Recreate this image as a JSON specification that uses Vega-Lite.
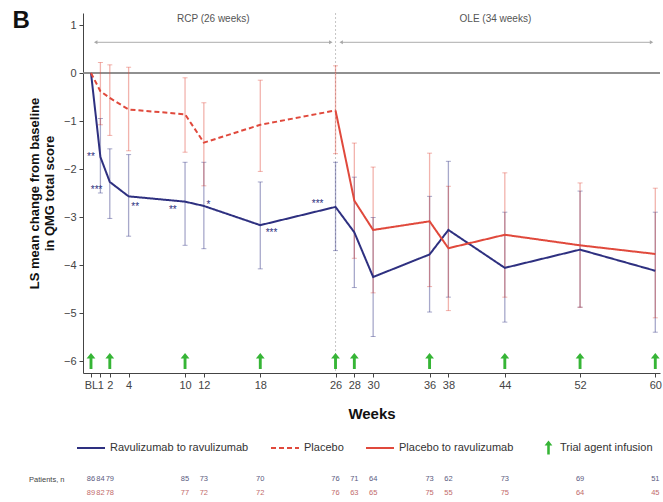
{
  "$schema": "https://vega.github.io/schema/vega-lite/v6.json",
  "padding": {"left": 12, "top": 8, "right": 3, "bottom": 0},
  "config": {
    "font": "Liberation Sans",
    "view": {"stroke": null},
    "axis": {
      "labelFontSize": 11,
      "labelColor": "#444",
      "domainColor": "#444",
      "tickColor": "#444",
      "tickSize": 4,
      "grid": false,
      "titleFontSize": 13,
      "titleFontWeight": "bold",
      "titleColor": "#111"
    },
    "legend": {
      "title": null,
      "orient": "none",
      "direction": "horizontal",
      "labelFontSize": 11,
      "labelColor": "#333"
    }
  },
  "title": {
    "text": "B",
    "anchor": "start",
    "frame": "bounds",
    "fontSize": 24,
    "fontWeight": "bold",
    "color": "#111",
    "dx": -16,
    "dy": 24
  },
  "datasets": {
    "series": [
      {"series": "Ravulizumab to ravulizumab", "week": 0, "ls": 0, "lo": null, "hi": null},
      {"series": "Ravulizumab to ravulizumab", "week": 1, "ls": -1.75, "lo": -2.5, "hi": -0.95},
      {"series": "Ravulizumab to ravulizumab", "week": 2, "ls": -2.27, "lo": -3.03, "hi": -1.58},
      {"series": "Ravulizumab to ravulizumab", "week": 4, "ls": -2.57, "lo": -3.4, "hi": -1.7},
      {"series": "Ravulizumab to ravulizumab", "week": 10, "ls": -2.68, "lo": -3.59, "hi": -1.86},
      {"series": "Ravulizumab to ravulizumab", "week": 12, "ls": -2.77, "lo": -3.66, "hi": -1.86},
      {"series": "Ravulizumab to ravulizumab", "week": 18, "ls": -3.17, "lo": -4.08, "hi": -2.27},
      {"series": "Ravulizumab to ravulizumab", "week": 26, "ls": -2.79, "lo": -3.7, "hi": -1.86},
      {"series": "Ravulizumab to ravulizumab", "week": 28, "ls": -3.32, "lo": -4.47, "hi": -2.17},
      {"series": "Ravulizumab to ravulizumab", "week": 30, "ls": -4.25, "lo": -5.49, "hi": -3.01},
      {"series": "Ravulizumab to ravulizumab", "week": 36, "ls": -3.78, "lo": -4.98, "hi": -2.57},
      {"series": "Ravulizumab to ravulizumab", "week": 38, "ls": -3.27, "lo": -4.67, "hi": -1.84},
      {"series": "Ravulizumab to ravulizumab", "week": 44, "ls": -4.06, "lo": -5.19, "hi": -2.9},
      {"series": "Ravulizumab to ravulizumab", "week": 52, "ls": -3.68, "lo": -4.88, "hi": -2.46},
      {"series": "Ravulizumab to ravulizumab", "week": 60, "ls": -4.12, "lo": -5.4, "hi": -2.9},
      {"series": "Placebo", "week": 0, "ls": 0, "lo": null, "hi": null},
      {"series": "Placebo", "week": 1, "ls": -0.38, "lo": -1.08, "hi": 0.22},
      {"series": "Placebo", "week": 2, "ls": -0.52, "lo": -1.3, "hi": 0.17},
      {"series": "Placebo", "week": 4, "ls": -0.76, "lo": -1.62, "hi": 0.12},
      {"series": "Placebo", "week": 10, "ls": -0.86, "lo": -1.65, "hi": -0.1},
      {"series": "Placebo", "week": 12, "ls": -1.45, "lo": -2.35, "hi": -0.62},
      {"series": "Placebo", "week": 18, "ls": -1.08, "lo": -2.05, "hi": -0.15},
      {"series": "Placebo", "week": 26, "ls": -0.78, "lo": -1.68, "hi": 0.15},
      {"series": "Placebo to ravulizumab", "week": 26, "ls": -0.78, "lo": null, "hi": null},
      {"series": "Placebo to ravulizumab", "week": 28, "ls": -2.66, "lo": -3.86, "hi": -1.46},
      {"series": "Placebo to ravulizumab", "week": 30, "ls": -3.27, "lo": -4.58, "hi": -1.96},
      {"series": "Placebo to ravulizumab", "week": 36, "ls": -3.09, "lo": -4.45, "hi": -1.67},
      {"series": "Placebo to ravulizumab", "week": 38, "ls": -3.65, "lo": -4.95, "hi": -2.36},
      {"series": "Placebo to ravulizumab", "week": 44, "ls": -3.37, "lo": -4.67, "hi": -2.08},
      {"series": "Placebo to ravulizumab", "week": 52, "ls": -3.59, "lo": -4.88, "hi": -2.29},
      {"series": "Placebo to ravulizumab", "week": 60, "ls": -3.77, "lo": -5.1, "hi": -2.4}
    ],
    "infusions": [
      {"series": "Trial agent infusion", "week": 0},
      {"series": "Trial agent infusion", "week": 2},
      {"series": "Trial agent infusion", "week": 10},
      {"series": "Trial agent infusion", "week": 18},
      {"series": "Trial agent infusion", "week": 26},
      {"series": "Trial agent infusion", "week": 28},
      {"series": "Trial agent infusion", "week": 36},
      {"series": "Trial agent infusion", "week": 44},
      {"series": "Trial agent infusion", "week": 52},
      {"series": "Trial agent infusion", "week": 60}
    ],
    "stars": [
      {"week": 0, "at": -1.68, "label": "**"},
      {"week": 0.6, "at": -2.38, "label": "***"},
      {"week": 4.7, "at": -2.72, "label": "**"},
      {"week": 8.7, "at": -2.8, "label": "**"},
      {"week": 12.5, "at": -2.69, "label": "*"},
      {"week": 19.2, "at": -3.28, "label": "***"},
      {"week": 24.1, "at": -2.66, "label": "***"}
    ],
    "phases": [
      {"label": "RCP (26 weeks)", "start": 0.5, "end": 25.5, "mid": 13},
      {"label": "OLE (34 weeks)", "start": 26.6, "end": 59.6, "mid": 43}
    ],
    "patients": [
      {"arm": "Ravulizumab to ravulizumab", "week": 0, "n": "86"},
      {"arm": "Ravulizumab to ravulizumab", "week": 1, "n": "84"},
      {"arm": "Ravulizumab to ravulizumab", "week": 2, "n": "79"},
      {"arm": "Ravulizumab to ravulizumab", "week": 10, "n": "85"},
      {"arm": "Ravulizumab to ravulizumab", "week": 12, "n": "73"},
      {"arm": "Ravulizumab to ravulizumab", "week": 18, "n": "70"},
      {"arm": "Ravulizumab to ravulizumab", "week": 26, "n": "76"},
      {"arm": "Ravulizumab to ravulizumab", "week": 28, "n": "71"},
      {"arm": "Ravulizumab to ravulizumab", "week": 30, "n": "64"},
      {"arm": "Ravulizumab to ravulizumab", "week": 36, "n": "73"},
      {"arm": "Ravulizumab to ravulizumab", "week": 38, "n": "62"},
      {"arm": "Ravulizumab to ravulizumab", "week": 44, "n": "73"},
      {"arm": "Ravulizumab to ravulizumab", "week": 52, "n": "69"},
      {"arm": "Ravulizumab to ravulizumab", "week": 60, "n": "51"},
      {"arm": "Placebo", "week": 0, "n": "89"},
      {"arm": "Placebo", "week": 1, "n": "82"},
      {"arm": "Placebo", "week": 2, "n": "78"},
      {"arm": "Placebo", "week": 10, "n": "77"},
      {"arm": "Placebo", "week": 12, "n": "72"},
      {"arm": "Placebo", "week": 18, "n": "72"},
      {"arm": "Placebo", "week": 26, "n": "76"},
      {"arm": "Placebo", "week": 28, "n": "63"},
      {"arm": "Placebo", "week": 30, "n": "65"},
      {"arm": "Placebo", "week": 36, "n": "75"},
      {"arm": "Placebo", "week": 38, "n": "55"},
      {"arm": "Placebo", "week": 44, "n": "75"},
      {"arm": "Placebo", "week": 52, "n": "64"},
      {"arm": "Placebo", "week": 60, "n": "45"}
    ]
  },
  "spacing": 17,
  "resolve": {
    "scale": {"color": "independent", "strokeDash": "independent", "shape": "independent"},
    "legend": {"color": "independent", "strokeDash": "independent", "shape": "independent"}
  },
  "vconcat": [
    {
      "width": 577,
      "height": 360,
      "layer": [
        {
          "data": {"name": "phases"},
          "mark": {"type": "rule", "color": "#888", "strokeWidth": 1.5},
          "encoding": {
            "y": {"datum": 0, "type": "quantitative", "scale": {"domain": [-6.25, 1.25], "nice": false, "zero": false}, "title": ["LS mean change from baseline", "in QMG total score"]}
          }
        },
        {
          "data": {"name": "phases"},
          "mark": {"type": "rule", "color": "#c8c8c8", "strokeWidth": 1, "strokeDash": [2, 2]},
          "encoding": {
            "x": {"datum": 26, "type": "quantitative", "scale": {"domain": [-0.85, 60.5], "nice": false, "zero": false}, "title": "Weeks"}
          }
        },
        {
          "data": {"name": "phases"},
          "mark": {"type": "rule", "color": "#bdbdbd", "strokeWidth": 1.2},
          "encoding": {
            "x": {"field": "start", "type": "quantitative", "scale": {"domain": [-0.85, 60.5], "nice": false, "zero": false}, "title": "Weeks"},
            "x2": {"field": "end"},
            "y": {"datum": 0.64, "type": "quantitative", "scale": {"domain": [-6.25, 1.25], "nice": false, "zero": false}, "title": ["LS mean change from baseline", "in QMG total score"]}
          }
        },
        {
          "data": {"name": "phases"},
          "mark": {"type": "point", "shape": "triangle-left", "filled": true, "size": 16, "color": "#a8a8a8", "opacity": 1},
          "encoding": {
            "x": {"field": "start", "type": "quantitative", "scale": {"domain": [-0.85, 60.5], "nice": false, "zero": false}, "title": "Weeks"},
            "y": {"datum": 0.64, "type": "quantitative", "scale": {"domain": [-6.25, 1.25], "nice": false, "zero": false}, "title": ["LS mean change from baseline", "in QMG total score"]}
          }
        },
        {
          "data": {"name": "phases"},
          "mark": {"type": "point", "shape": "triangle-right", "filled": true, "size": 16, "color": "#a8a8a8", "opacity": 1},
          "encoding": {
            "x": {"field": "end", "type": "quantitative", "scale": {"domain": [-0.85, 60.5], "nice": false, "zero": false}, "title": "Weeks"},
            "y": {"datum": 0.64, "type": "quantitative", "scale": {"domain": [-6.25, 1.25], "nice": false, "zero": false}, "title": ["LS mean change from baseline", "in QMG total score"]}
          }
        },
        {
          "data": {"name": "phases"},
          "mark": {"type": "text", "fontSize": 10, "color": "#555"},
          "encoding": {
            "x": {"field": "mid", "type": "quantitative", "scale": {"domain": [-0.85, 60.5], "nice": false, "zero": false}, "title": "Weeks"},
            "y": {"datum": 1.13, "type": "quantitative", "scale": {"domain": [-6.25, 1.25], "nice": false, "zero": false}, "title": ["LS mean change from baseline", "in QMG total score"]},
            "text": {"field": "label"}
          }
        },
        {
          "data": {"name": "series"},
          "transform": [{"filter": "isValid(datum.lo)"}],
          "mark": {"type": "errorbar", "ticks": {"size": 5, "opacity": 0.42}, "rule": {"strokeWidth": 1.3, "opacity": 0.42}},
          "encoding": {
            "x": {"field": "week", "type": "quantitative", "scale": {"domain": [-0.85, 60.5], "nice": false, "zero": false}, "title": "Weeks"},
            "y": {"field": "lo", "type": "quantitative", "scale": {"domain": [-6.25, 1.25], "nice": false, "zero": false}, "title": ["LS mean change from baseline", "in QMG total score"]},
            "y2": {"field": "hi"},
            "color": {"condition": {"test": "datum.series === 'Ravulizumab to ravulizumab'", "value": "#2e3080"}, "value": "#e0493c"}
          }
        },
        {
          "data": {"name": "series"},
          "mark": {"type": "line", "strokeWidth": 2},
          "encoding": {
            "x": {
              "field": "week",
              "type": "quantitative",
              "scale": {"domain": [-0.85, 60.5], "nice": false, "zero": false},
              "title": "Weeks",
              "axis": {
                "values": [0, 1, 2, 4, 10, 12, 18, 26, 28, 30, 36, 38, 44, 52, 60],
                "labelExpr": "datum.value === 0 ? 'BL' : datum.label",
                "labelOverlap": false,
                "labelFlush": false,
                "titleFontSize": 15,
                "titlePadding": 16
              }
            },
            "y": {
              "field": "ls",
              "type": "quantitative",
              "scale": {"domain": [-6.25, 1.25], "nice": false, "zero": false},
              "title": ["LS mean change from baseline", "in QMG total score"],
              "axis": {"values": [-6, -5, -4, -3, -2, -1, 0, 1], "titlePadding": 7, "labelPadding": 3, "titleLineHeight": 15}
            },
            "color": {
              "field": "series",
              "type": "nominal",
              "scale": {
                "domain": ["Ravulizumab to ravulizumab", "Placebo", "Placebo to ravulizumab"],
                "range": ["#2e3080", "#e0493c", "#e0493c"]
              },
              "legend": {
                "legendX": -7,
                "legendY": 420,
                "columns": 3,
                "symbolType": "stroke",
                "symbolSize": 784,
                "symbolStrokeWidth": 2,
                "symbolOpacity": 1,
                "columnPadding": 18
              }
            },
            "strokeDash": {
              "field": "series",
              "type": "nominal",
              "scale": {
                "domain": ["Ravulizumab to ravulizumab", "Placebo", "Placebo to ravulizumab"],
                "range": [[1, 0], [5, 3], [1, 0]]
              },
              "legend": {
                "legendX": -7,
                "legendY": 420,
                "columns": 3,
                "symbolType": "stroke",
                "symbolSize": 784,
                "symbolStrokeWidth": 2,
                "symbolOpacity": 1,
                "columnPadding": 18
              }
            }
          }
        },
        {
          "data": {"name": "stars"},
          "mark": {"type": "text", "fontSize": 10, "color": "#2e3080", "baseline": "middle", "dy": 3},
          "encoding": {
            "x": {"field": "week", "type": "quantitative", "scale": {"domain": [-0.85, 60.5], "nice": false, "zero": false}, "title": "Weeks"},
            "y": {"field": "at", "type": "quantitative", "scale": {"domain": [-6.25, 1.25], "nice": false, "zero": false}, "title": ["LS mean change from baseline", "in QMG total score"]},
            "text": {"field": "label"}
          }
        },
        {
          "data": {"name": "infusions"},
          "mark": {"type": "point", "filled": true, "size": 256, "opacity": 1, "color": "#36b536"},
          "encoding": {
            "x": {"field": "week", "type": "quantitative", "scale": {"domain": [-0.85, 60.5], "nice": false, "zero": false}, "title": "Weeks"},
            "y": {"datum": -6, "type": "quantitative", "scale": {"domain": [-6.25, 1.25], "nice": false, "zero": false}, "title": ["LS mean change from baseline", "in QMG total score"]},
            "shape": {
              "field": "series",
              "type": "nominal",
              "scale": {
                "domain": ["Trial agent infusion"],
                "range": ["M0,-1L0.55,-0.3L0.18,-0.3L0.18,1L-0.18,1L-0.18,-0.3L-0.55,-0.3Z"]
              },
              "legend": {
                "legendX": 458,
                "legendY": 427,
                "symbolSize": 200,
                "symbolFillColor": "#36b536",
                "symbolStrokeWidth": 0
              }
            }
          }
        }
      ]
    },
    {
      "width": 577,
      "height": 28,
      "data": {"name": "patients"},
      "mark": {"type": "text", "fontSize": 7.5},
      "encoding": {
        "x": {"field": "week", "type": "quantitative", "scale": {"domain": [-0.85, 60.5], "nice": false, "zero": false}, "axis": null},
        "y": {
          "field": "arm",
          "type": "nominal",
          "scale": {"domain": ["Ravulizumab to ravulizumab", "Placebo"]},
          "axis": {"title": null, "domain": false, "ticks": false, "labelExpr": "datum.value === 'Ravulizumab to ravulizumab' ? 'Patients, n' : ''", "labelFontSize": 7.5, "labelColor": "#444", "labelPadding": 19}
        },
        "text": {"field": "n"},
        "color": {"condition": {"test": "datum.arm === 'Placebo'", "value": "#c26b6b"}, "value": "#5a5a80"}
      }
    }
  ]
}
